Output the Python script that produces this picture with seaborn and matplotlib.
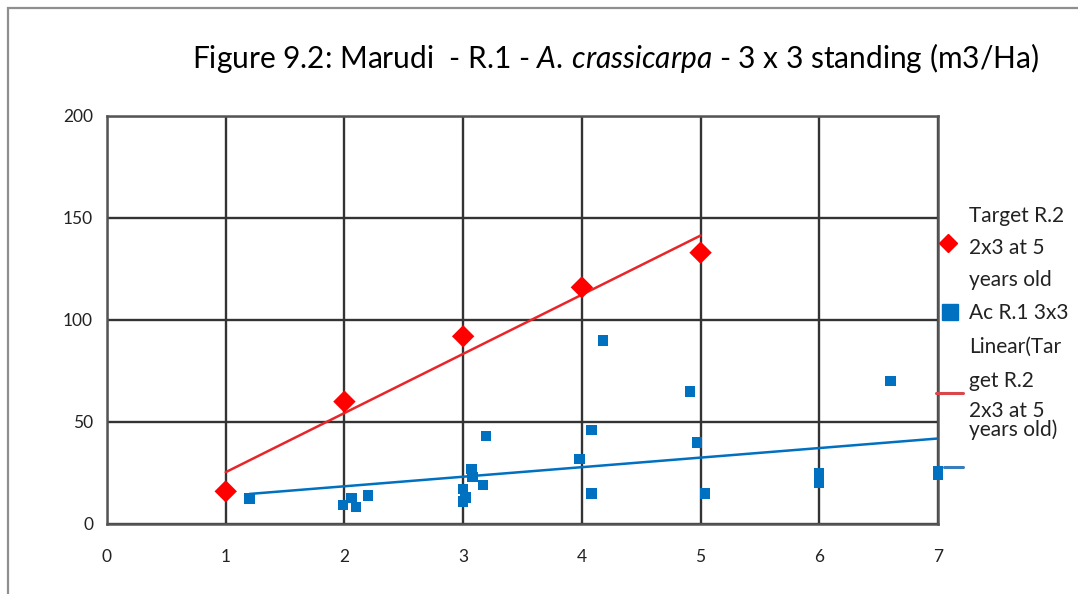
import numpy as np
import pandas as pd
import matplotlib
matplotlib.use("Agg")
import matplotlib.pyplot as plt
import seaborn as sns
from matplotlib.lines import Line2D
from matplotlib.patches import Rectangle

# Target growth curve (R.2, 2x3 spacing, at 5 years old)
target_age = [1, 2, 3, 4, 5]
target_volume = [16, 60, 92, 116, 133]

# Measured standing volume, Ac R.1 3x3 plots
plot_age = [1.2, 1.99, 2.06, 2.1, 2.2,
            3.0, 3.02, 3.0, 3.07, 3.08, 3.17, 3.19,
            3.98, 4.08, 4.08, 4.18,
            4.91, 4.97, 5.04,
            6.0, 6.0, 6.0, 6.6, 7.0, 7.0]
plot_volume = [12.5, 9.3, 12.7, 8.3, 14,
               11, 13, 17, 27, 23, 19, 43,
               32, 46, 15, 90,
               65, 40, 15,
               20, 23, 25, 70, 24, 26]

x_ticks = [0, 1, 2, 3, 4, 5, 6, 7]
y_ticks = [0, 50, 100, 150, 200]

RED = "#FF0000"
RED_LINE = "#E8262A"
BLUE = "#0070C0"
GRID = "#333333"

sns.set_theme(style="white")
plt.rcParams["font.family"] = ["Lato", "DejaVu Sans"]
plt.rcParams["mathtext.fontset"] = "custom"
plt.rcParams["mathtext.rm"] = "Lato"
plt.rcParams["mathtext.it"] = "Lato:italic"

target = pd.DataFrame({"age": target_age, "volume": target_volume})
plots = pd.DataFrame({"age": plot_age, "volume": plot_volume})

fig = plt.figure(figsize=(10.78, 5.94), dpi=100)
fig.patch.set_facecolor("white")

# outer chart-area border (only the top and left edges fall inside the image)
fig.patches.append(Rectangle((8 / 1078, -0.2), 1.3, 1.2 - 8 / 594,
                             transform=fig.transFigure, fill=False,
                             edgecolor="#8f8f8f", linewidth=1.6))

ax = fig.add_axes([107 / 1078, 1 - 524 / 594, (938 - 107) / 1078, (524 - 116) / 594])

# linear trend lines
sns.regplot(data=target, x="age", y="volume", scatter=False, ci=None,
            truncate=True, ax=ax, color=RED_LINE, line_kws={"linewidth": 1.8, "zorder": 3})
sns.regplot(data=plots, x="age", y="volume", scatter=False, ci=None,
            truncate=True, ax=ax, color=BLUE, line_kws={"linewidth": 1.8, "zorder": 3})

# observations
sns.scatterplot(data=target, x="age", y="volume", ax=ax, marker="D", s=130,
                color=RED, edgecolor="none", linewidth=0, zorder=4, clip_on=False)
sns.scatterplot(data=plots, x="age", y="volume", ax=ax, marker="s", s=55,
                color=BLUE, edgecolor="none", linewidth=0, zorder=4, clip_on=False)

ax.set_xlim(0, 7)
ax.set_ylim(0, 200)
ax.set_xticks(x_ticks)
ax.set_yticks(y_ticks)
ax.set_xticklabels([str(v) for v in x_ticks], fontsize=12.5, color="#222222")
ax.set_yticklabels([str(v) for v in y_ticks], fontsize=12.5, color="#222222")
ax.tick_params(axis="y", length=0, pad=10)
ax.tick_params(axis="x", length=3, width=1, color="#777777", pad=15, direction="out")
ax.grid(True, color=GRID, linewidth=1.7)
ax.set_axisbelow(True)
for side in ax.spines.values():
    side.set_color("#555555")
    side.set_linewidth(1.8)
ax.set_ylabel("")
ax.set_xlabel("Age (years)", fontsize=14, color="#222222", labelpad=22)

fig.text(615 / 1078, 1 - 58 / 594,
         r"Figure 9.2: Marudi  - R.1 - $A.\,crassicarpa$ - 3 x 3 standing (m3/Ha)",
         ha="center", va="center", fontsize=21.5, color="#000000")

# legend, drawn at the right edge of the chart area
leg_font = 15
def fig_xy(px, py):
    return px / 1078, 1 - py / 594

lx, ly = fig_xy(948, 243)
fig.add_artist(Line2D([lx], [ly], marker="D", markersize=9, color=RED,
                      linestyle="none", transform=fig.transFigure))
lx, ly = fig_xy(950, 312)
fig.add_artist(Line2D([lx], [ly], marker="s", markersize=12, color=BLUE,
                      linestyle="none", transform=fig.transFigure))
x0, y0 = fig_xy(936, 393)
x1, _ = fig_xy(963, 393)
fig.add_artist(Line2D([x0, x1], [y0, y0], color="#D9474B", linewidth=2.2,
                      transform=fig.transFigure))
x0, y0 = fig_xy(944, 467)
x1, _ = fig_xy(963, 467)
fig.add_artist(Line2D([x0, x1], [y0, y0], color="#3A7DBF", linewidth=2.2,
                      transform=fig.transFigure))

legend_lines = [("Target R.2", 216), ("2x3 at 5", 248), ("years old", 280),
                ("Ac R.1 3x3", 313),
                ("Linear(Tar", 347), ("get R.2", 381), ("2x3 at 5", 411),
                ("years old)", 430)]
for txt, py in legend_lines:
    tx, ty = fig_xy(969, py)
    fig.text(tx, ty, txt, ha="left", va="center", fontsize=leg_font, color="#222222")

fig.savefig("out.png", dpi=100, facecolor="white")
